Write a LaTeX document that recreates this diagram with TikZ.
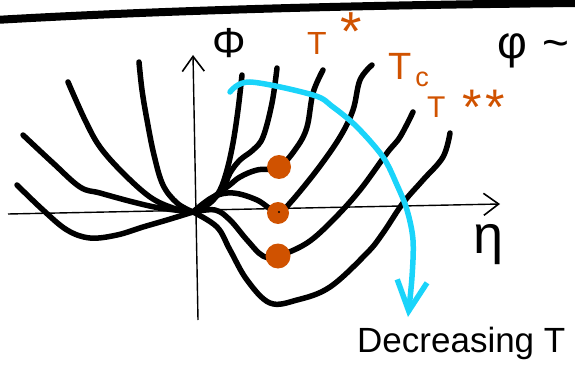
\documentclass[tikz,border=0pt]{standalone}
\usepackage{fontspec}
\setmainfont{Liberation Sans}
\usetikzlibrary{arrows.meta}

\definecolor{burnt}{RGB}{208,82,0}
\definecolor{skyblue}{RGB}{26,212,250}

\begin{document}
\begin{tikzpicture}[
    x=1pt, y=-1pt,
    curve/.style={line width=5.5pt, line cap=round, line join=round},
    axis/.style={line width=1.4pt, -{Straight Barb[length=15pt, width=22pt, line width=1.6pt]}},
    coolarrow/.style={line width=5.5pt, draw=skyblue, line cap=round, -{Straight Barb[length=30pt, width=30pt, line width=5.5pt]}},
    mindot/.style={fill=burnt},
    templabel/.style={inner sep=0pt, text=burnt, anchor=base west},
    inklabel/.style={inner sep=0pt, text=black}
]
\useasboundingbox (0,0) rectangle (575,374);

% --- FRAME LINE ---
\draw[line width=8pt] (-5,20) .. controls (150,11) and (350,5) .. (580,3);

% --- AXES ---
\coordinate (origin) at (193,212);
\coordinate (etaend) at (500,204);
\coordinate (phiend) at (193,55);
\draw[axis] (8,214) -- (etaend);
\draw[axis] (198,320) -- (phiend);

% --- FREE ENERGY CURVES ---
% left branches
\draw[curve] plot[smooth, tension=0.6] coordinates {(139,62) (142,90) (147,120) (154,155) (163,185) (177,203) (origin)};
\draw[curve] plot[smooth, tension=0.6] coordinates {(68,82) (85,120) (100,147) (123,173) (150,197) (173,208) (origin)};
\draw[curve] plot[smooth, tension=0.6] coordinates {(23,135) (53,163) (80,187) (100,193) (133,202) (160,208) (origin)};
\draw[curve] plot[smooth, tension=0.6] coordinates {(17,185) (43,210) (67,230) (90,238) (117,235) (143,227) (167,220) (origin)};
% right branches
\draw[curve] plot[smooth, tension=0.6] coordinates {(242,75) (238,110) (233,143) (227,170) (220,190) (210,203) (origin)};
\draw[curve] plot[smooth, tension=0.6] coordinates {(277,68) (272,103) (263,137) (253,150) (240,160) (230,173) (220,193) (origin)};
\draw[curve] plot[smooth, tension=0.6] coordinates {(323,70) (313,93) (307,127) (297,147) (279,167) (257,170) (240,177) (227,187) (origin)};
\draw[curve] plot[smooth, tension=0.6] coordinates {(372,65) (360,80) (353,110) (340,137) (317,170) (290,203) (278,213) (257,200) (233,193) (213,197) (origin)};
\draw[curve] plot[smooth, tension=0.6] coordinates {(413,112) (400,137) (387,153) (360,190) (333,220) (307,243) (278,256) (263,256) (247,240) (230,220) (215,210) (origin)};
\draw[curve] plot[smooth, tension=0.6] coordinates {(450,133) (443,157) (423,180) (403,203) (383,233) (367,253) (330,287) (297,300) (270,303) (247,280) (230,250) (217,227) (origin)};

% --- MINIMA ---
\fill[mindot] (279,167) circle (12pt);
\fill[mindot] (278,213) circle (11pt);
\fill (279,212) circle (1.2pt);
\fill[mindot] (278,256) circle (12.5pt);

% --- DECREASING T ---
\draw[coolarrow] plot[smooth, tension=0.55] coordinates {(230,92) (250,82) (313,95) (333,107) (357,127) (383,157) (397,185) (407,210) (413,240) (412,277) (408,317)};

% --- LABELS ---
\node[inklabel, font=\fontsize{42}{42}\selectfont] (philabel) at (229,43) {Φ};
\node[inklabel, font=\fontsize{54}{54}\selectfont] (etalabel) at (489,245) {η};
\node[inklabel, anchor=base west, font=\fontsize{46}{46}\selectfont] (phiscale) at (497,59) {φ\hspace{16pt}\textasciitilde};
\node[templabel, font=\fontsize{32}{32}\selectfont] (tstar) at (307,55) {T\kern14pt\raisebox{4pt}{\fontsize{55}{55}\selectfont *}};
\node[templabel, font=\fontsize{38}{38}\selectfont] (tcrit) at (388,80) {T\kern4pt\raisebox{-7pt}{\fontsize{27}{27}\selectfont c}};
\node[templabel, font=\fontsize{30}{30}\selectfont] (tstarstar) at (427,118) {T\kern17pt\raisebox{-7pt}{\fontsize{50}{50}\selectfont *\kern4pt*}};
\node[inklabel, anchor=base west, font=\fontsize{35}{35}\selectfont] (decrease) at (357,352) {Decreasing T};

\end{tikzpicture}
\end{document}
